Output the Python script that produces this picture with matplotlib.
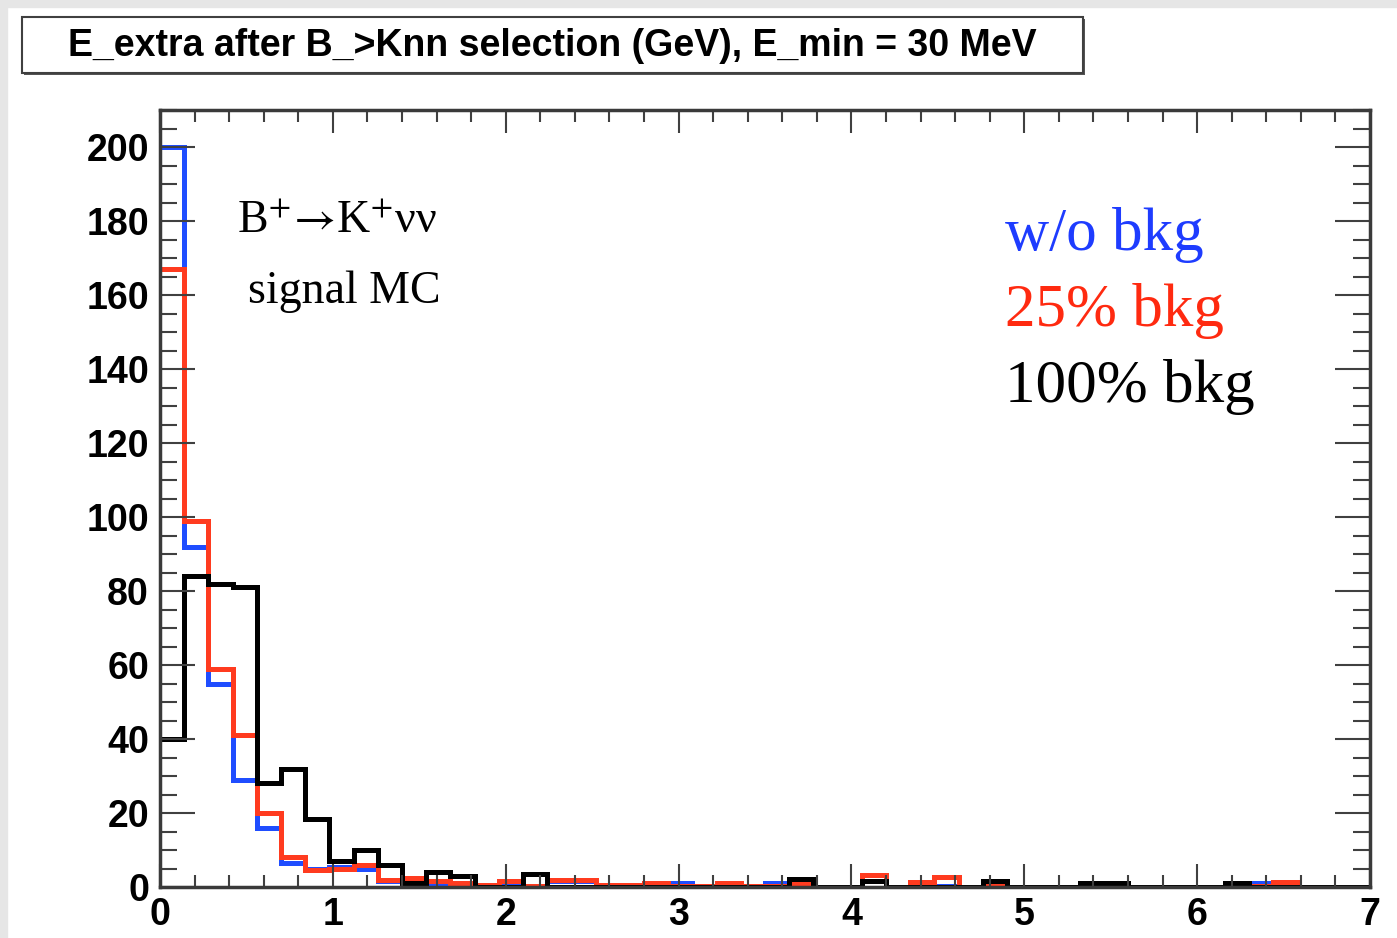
import numpy as np
import matplotlib
matplotlib.use("Agg")
import matplotlib.pyplot as plt
from matplotlib.patches import Rectangle
from matplotlib.ticker import MultipleLocator

# E_extra histogram, 50 bins from 0 to 7 GeV
x_min, x_max, n_bins = 0.0, 7.0, 50

no_bkg = [200, 92, 55, 29, 16, 6.5, 5, 5.5, 5, 1.5,
          2, 1, 0.5, 0.3, 1.2, 0.3, 1.5, 1.5, 0.5, 0.5,
          0.8, 1, 0.3, 0.8, 0.3, 1, 0.2, 0, 0, 1.5,
          0, 0.8, 0.2, 0, 0.3, 0, 0, 0, 0.5, 0.5,
          0, 0, 0, 0, 0.3, 1.2, 0.8, 0, 0, 0]
bkg25 = [167, 99, 59, 41, 20, 8, 4.5, 5, 6, 2,
         2.5, 1.5, 1, 0.5, 1.5, 0.3, 2, 2, 0.5, 0.5,
         1, 0.3, 0.3, 1, 0.3, 0.3, 1, 0, 0, 3.2,
         0, 1.3, 2.7, 0, 0.3, 0, 0, 0, 0.5, 0.5,
         0, 0, 0, 0, 0.3, 0.3, 1.3, 0, 0, 0]
bkg100 = [40, 84, 82, 81, 28, 32, 18.5, 7, 10, 6,
          1, 4, 3, 0, 0, 3.5, 0, 0, 0, 0,
          0, 0, 0, 0, 0, 0, 2.2, 0, 0, 1.5,
          0, 0, 0, 0, 1.5, 0, 0, 0, 1.2, 1.2,
          0, 0, 0, 0, 1.2, 0, 0, 0, 0, 0]

title = "E_extra after B_>Knn selection (GeV), E_min = 30 MeV"
labels = ["w/o bkg", "25% bkg", "100% bkg"]
hist_colors = ["#1f4dff", "#ff3b1f", "black"]
text_colors = ["#1e3cff", "#ff2a10", "black"]

plt.rcParams['mathtext.fontset'] = 'stix'

edges = np.linspace(x_min, x_max, n_bins + 1)

W, H = 1397, 938
fig = plt.figure(figsize=(W / 100, H / 100), dpi=100)

# grey slide border at top/left
fig.patches.append(Rectangle((0, 1 - 7 / H), 1, 7 / H, transform=fig.transFigure,
                             color="#e6e6e6", zorder=0))
fig.patches.append(Rectangle((0, 0), 7 / W, 1, transform=fig.transFigure,
                             color="#e6e6e6", zorder=0))

ax = fig.add_axes([160 / W, (H - 887) / H, 1210 / W, 777 / H])

for vals, col in zip([no_bkg, bkg25, bkg100], hist_colors):
    ax.stairs(vals, edges, baseline=None, color=col, lw=3.6)

ax.set_xlim(x_min, x_max)
ax.set_ylim(0, 210)
ax.xaxis.set_major_locator(MultipleLocator(1))
ax.xaxis.set_minor_locator(MultipleLocator(0.2))
ax.yaxis.set_major_locator(MultipleLocator(20))
ax.yaxis.set_minor_locator(MultipleLocator(5))

tick_col = "#404040"
ax.tick_params(axis="x", which="major", direction="in", top=True, length=16.5,
               width=1.5, color=tick_col, pad=7)
ax.tick_params(axis="x", which="minor", direction="in", top=True, length=8.5,
               width=1.5, color=tick_col)
ax.tick_params(axis="y", which="major", direction="in", right=True, length=25,
               width=1.5, color=tick_col, pad=8)
ax.tick_params(axis="y", which="minor", direction="in", right=True, length=12,
               width=1.5, color=tick_col)
for lab in ax.get_xticklabels() + ax.get_yticklabels():
    lab.set_fontfamily("Liberation Sans")
    lab.set_fontweight("bold")
    lab.set_fontsize(27)
for sp in ax.spines.values():
    sp.set_color("#3a3a3a")
    sp.set_linewidth(2.5)

# title box (with a slight shadow, ROOT style)
fig.patches.append(Rectangle((24 / W, (H - 75) / H), 1061 / W, 56 / H,
                             transform=fig.transFigure, facecolor="#555555",
                             edgecolor="none", zorder=1))
fig.patches.append(Rectangle((22 / W, (H - 73) / H), 1061 / W, 56 / H,
                             transform=fig.transFigure, facecolor="white",
                             edgecolor="#404040", lw=1.5, zorder=1))
fig.text(552 / W, 1 - 46 / H, title, ha="center", va="center",
         fontsize=27, fontweight="bold", family=["Liberation Sans", "DejaVu Sans"],
         zorder=2)

serif = ["Liberation Serif", "DejaVu Serif"]
fig.text(237 / W, 1 - 233 / H, r"B$^{+}$$\!\rightarrow\!$K$^{+}$νν", fontsize=33,
         family=serif, va="baseline")
fig.text(248 / W, 1 - 303 / H, "signal MC", fontsize=33, family=serif, va="baseline")

for i, (lab, col) in enumerate(zip(labels, text_colors)):
    fig.text(1005 / W, 1 - (250 + 76 * i) / H, lab, fontsize=44, family=serif,
             color=col, va="baseline")

fig.savefig("out.png", dpi=100)
